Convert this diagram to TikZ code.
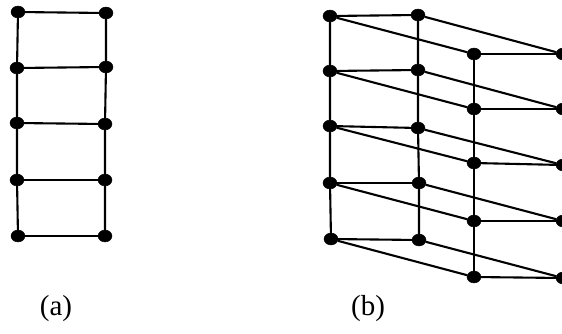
\documentclass[tikz,border=0pt]{standalone}
\usepackage{fontspec}
\setmainfont{Liberation Serif}
\usetikzlibrary{shapes.geometric}

\begin{document}
\begin{tikzpicture}[x=1pt,y=-1pt,
  dot/.style={draw, fill, ellipse, inner sep=0pt, minimum width=14pt, minimum height=12pt},
  wire/.style={draw, line width=2.1pt},
  caption/.style={font=\fontsize{29}{34}\selectfont}]
\useasboundingbox (0,0) rectangle (562,333);
\begin{scope}
\node[dot] (l1) at (18,12) {};
\node[dot] (l2) at (17,68) {};
\node[dot] (l3) at (17,123) {};
\node[dot] (l4) at (17,180) {};
\node[dot] (l5) at (18,236) {};
\node[dot] (r1) at (106,13) {};
\node[dot] (r2) at (106,67) {};
\node[dot] (r3) at (105,124) {};
\node[dot] (r4) at (105,180) {};
\node[dot] (r5) at (105,236) {};
\path[wire] (l1) -- (l2) -- (l3) -- (l4) -- (l5);
\path[wire] (r1) -- (r2) -- (r3) -- (r4) -- (r5);
\path[wire] (l1) -- (r1);
\path[wire] (l2) -- (r2);
\path[wire] (l3) -- (r3);
\path[wire] (l4) -- (r4);
\path[wire] (l5) -- (r5);
\node[caption] (capa) at (56,309) {(a)};
\end{scope}
\begin{scope}
% front pair of columns
\node[dot] (w1) at (330,16) {};
\node[dot] (w2) at (330,71) {};
\node[dot] (w3) at (330,126) {};
\node[dot] (w4) at (330,183) {};
\node[dot] (w5) at (331,239) {};
\node[dot] (x1) at (418,15) {};
\node[dot] (x2) at (418,70) {};
\node[dot] (x3) at (418,128) {};
\node[dot] (x4) at (419,183) {};
\node[dot] (x5) at (419,240) {};
% back pair of columns
\node[dot] (y1) at (474,54) {};
\node[dot] (y2) at (474,109) {};
\node[dot] (y3) at (474,163) {};
\node[dot] (y4) at (474,221) {};
\node[dot] (y5) at (474,277) {};
\node[dot] (z1) at (563,54) {};
\node[dot] (z2) at (563,109) {};
\node[dot] (z3) at (563,165) {};
\node[dot] (z4) at (563,221) {};
\node[dot] (z5) at (563,278) {};
\path[wire] (w1) -- (w2) -- (w3) -- (w4) -- (w5);
\path[wire] (x1) -- (x2) -- (x3) -- (x4) -- (x5);
\path[wire] (y1) -- (y2) -- (y3) -- (y4) -- (y5);
\path[wire] (w1) -- (x1);
\path[wire] (w2) -- (x2);
\path[wire] (w3) -- (x3);
\path[wire] (w4) -- (x4);
\path[wire] (w5) -- (x5);
\path[wire] (y1) -- (z1);
\path[wire] (y2) -- (z2);
\path[wire] (y3) -- (z3);
\path[wire] (y4) -- (z4);
\path[wire] (y5) -- (z5);
% slanted links to the back
\path[wire] (w1) -- (y1);
\path[wire] (w2) -- (y2);
\path[wire] (w3) -- (y3);
\path[wire] (w4) -- (y4);
\path[wire] (w5) -- (y5);
\path[wire] (x1) -- (z1);
\path[wire] (x2) -- (z2);
\path[wire] (x3) -- (z3);
\path[wire] (x4) -- (z4);
\path[wire] (x5) -- (z5);
\node[caption] (capb) at (368,309) {(b)};
\end{scope}
\end{tikzpicture}
\end{document}
